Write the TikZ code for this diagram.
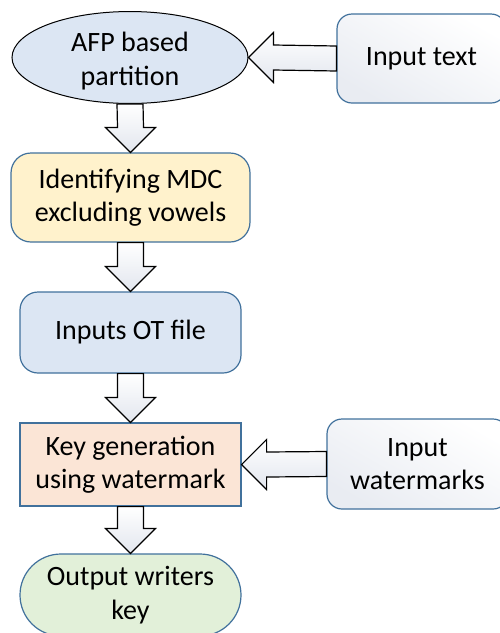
\documentclass[tikz,border=0pt]{standalone}
\usepackage{fontspec}
\setmainfont{Carlito}
\usetikzlibrary{shapes.geometric,calc}
\definecolor{edgeblue}{HTML}{41719C}
\definecolor{paleblue}{HTML}{DCE6F3}
\definecolor{paleyellow}{HTML}{FFF2CC}
\definecolor{palepeach}{HTML}{FBE5D6}
\definecolor{palegreen}{HTML}{E2F0D9}
\definecolor{softgray}{HTML}{E2E6EE}
\definecolor{boxgray}{HTML}{E9ECF2}
\tikzset{
  label font/.style={font=\fontsize{28}{33.5}\selectfont, align=center, text=black},
  stage/.style={label font, draw=edgeblue, line width=1.2pt, inner sep=0pt},
  inbox/.style={stage, rounded corners=15pt, top color=white, bottom color=boxgray, shading angle=-30},
  fatarrow/.style={draw=black, line width=1.2pt, line join=miter, top color=white, bottom color=softgray}
}
% block arrow pointing down from #1 to #2
\newcommand{\downblock}[2]{%
  \draw[fatarrow] ($(#1.south)+(-13,0)$) -- ($(#2.north)+(-13,-25)$) -- ($(#2.north)+(-25,-25)$)
    -- (#2.north) -- ($(#2.north)+(25,-25)$) -- ($(#2.north)+(13,-25)$) -- ($(#1.south)+(13,0)$) -- cycle;}
% block arrow pointing left from #1 to #2
\newcommand{\leftblock}[2]{%
  \draw[fatarrow] ($(#1.west)+(0,-12.5)$) -- ($(#2.east)+(25,-12.5)$) -- ($(#2.east)+(25,-25)$)
    -- (#2.east) -- ($(#2.east)+(25,25)$) -- ($(#2.east)+(25,12.5)$) -- ($(#1.west)+(0,12.5)$) -- cycle;}
\begin{document}
\begin{tikzpicture}[x=1pt,y=-1pt]
\useasboundingbox (0,0) rectangle (499,633);

\node[ellipse, label font, draw=black, line width=1pt, fill=paleblue, inner sep=0pt,
      minimum width=236pt, minimum height=89pt] (afp) at (130,57.5) {\rule{0pt}{27pt}AFP based\\partition};
\node[inbox, minimum width=169pt, minimum height=89pt] (intext) at (421.5,58.5) {Input text};

\node[stage, rounded corners=20pt, fill=paleyellow, minimum width=239pt, minimum height=89pt]
  (mdc) at (130.5,197.5) {Identifying MDC\\excluding vowels};
\node[stage, rounded corners=18pt, fill=paleblue, minimum width=221pt, minimum height=81pt]
  (ot) at (130.5,332.5) {Inputs OT file};
\node[stage, fill=palepeach, minimum width=221pt, minimum height=83pt]
  (key) at (130.5,464.5) {Key generation\\using watermark};
\node[inbox, minimum width=181pt, minimum height=90pt] (wm) at (417.5,464) {Input\\watermarks};
\node[stage, rounded corners=41pt, fill=palegreen, minimum width=221pt, minimum height=82pt]
  (out) at (130.5,595) {Output writers\\key};

\leftblock{intext}{afp}
\downblock{afp}{mdc}
\downblock{mdc}{ot}
\downblock{ot}{key}
\leftblock{wm}{key}
\downblock{key}{out}
\end{tikzpicture}
\end{document}
